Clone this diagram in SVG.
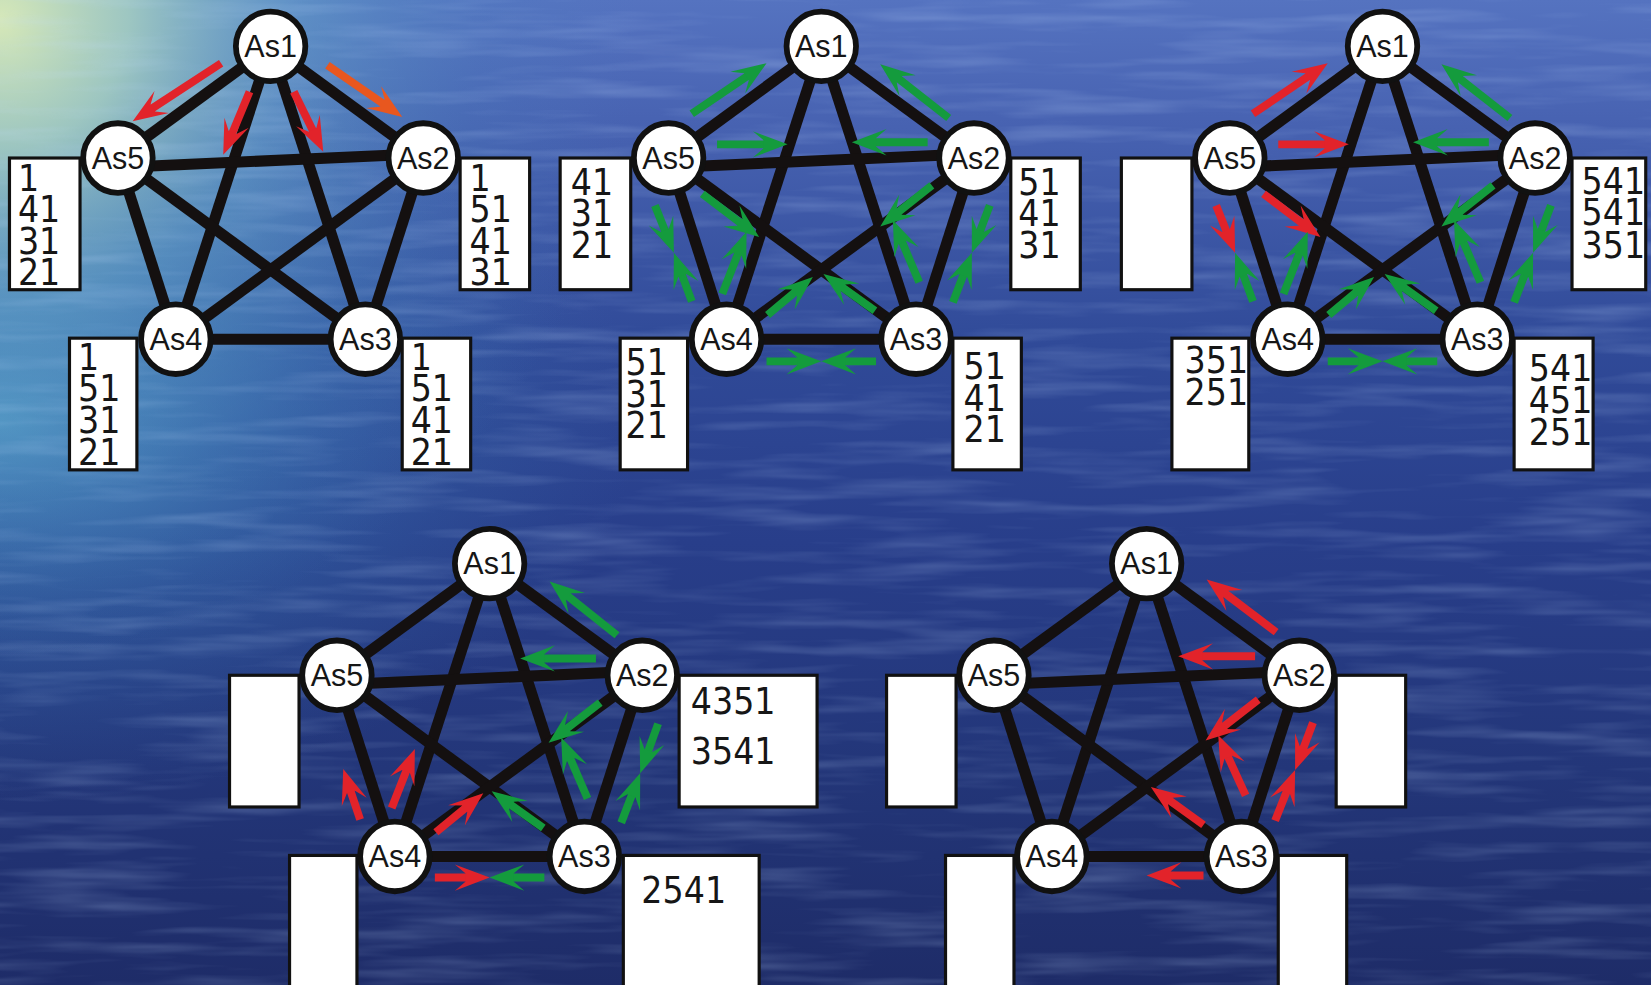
<svg xmlns="http://www.w3.org/2000/svg" width="1651" height="985" viewBox="0 0 1651 985">
  <defs>
    <linearGradient id="sea" x1="0" y1="0" x2="0" y2="1">
      <stop offset="0" stop-color="#5573c0"/>
      <stop offset="0.12" stop-color="#4863b2"/>
      <stop offset="0.35" stop-color="#304a98"/>
      <stop offset="0.55" stop-color="#283e8a"/>
      <stop offset="0.78" stop-color="#233679"/>
      <stop offset="1" stop-color="#1e2c68"/>
    </linearGradient>
    <radialGradient id="glow" cx="0" cy="20" r="640" gradientUnits="userSpaceOnUse">
      <stop offset="0" stop-color="#d6e8b8" stop-opacity="1"/>
      <stop offset="0.2" stop-color="#a6d0c2" stop-opacity="0.9"/>
      <stop offset="0.45" stop-color="#68aacb" stop-opacity="0.55"/>
      <stop offset="0.75" stop-color="#4c88c0" stop-opacity="0.2"/>
      <stop offset="1" stop-color="#4a80c0" stop-opacity="0"/>
    </radialGradient>
    <radialGradient id="teal" cx="0" cy="420" r="640" gradientTransform="translate(0 420) scale(1 0.6) translate(0 -420)" gradientUnits="userSpaceOnUse">
      <stop offset="0" stop-color="#5cb0d2" stop-opacity="0.75"/>
      <stop offset="0.5" stop-color="#4088bf" stop-opacity="0.32"/>
      <stop offset="1" stop-color="#3a70b0" stop-opacity="0"/>
    </radialGradient>
    <filter id="ripple" x="0" y="0" width="100%" height="100%">
      <feTurbulence type="fractalNoise" baseFrequency="0.006 0.07" numOctaves="3" seed="7"/>
      <feColorMatrix type="matrix" values="0 0 0 0 0.55  0 0 0 0 0.72  0 0 0 0 1  0 0 0 1.6 -0.72"/>
    </filter>
    <!-- barbed arrowheads, tip at the line end -->
    <marker id="hr" markerUnits="userSpaceOnUse" refX="0" refY="0" markerWidth="36" markerHeight="26" orient="auto" style="overflow:visible">
      <path d="M0,0 L-33,-12.5 L-23,-4 L-23,4 L-33,12.5 Z" fill="#e2232a"/>
    </marker>
    <marker id="hg" markerUnits="userSpaceOnUse" refX="0" refY="0" markerWidth="36" markerHeight="26" orient="auto" style="overflow:visible">
      <path d="M0,0 L-33,-12.5 L-23,-4 L-23,4 L-33,12.5 Z" fill="#149b3d"/>
    </marker>
    <marker id="ho" markerUnits="userSpaceOnUse" refX="0" refY="0" markerWidth="36" markerHeight="26" orient="auto" style="overflow:visible">
      <path d="M0,0 L-33,-12.5 L-23,-4 L-23,4 L-33,12.5 Z" fill="#e8571f"/>
    </marker>
  </defs>
  <style>
    .edge line { stroke: #141010; stroke-width: 10.5; stroke-linecap: butt; }
    .box { fill: #ffffff; stroke: #111111; stroke-width: 3; }
    .num { font-family: "DejaVu Sans", "Liberation Sans", sans-serif; font-size: 36px; fill: #161616; }
    .node circle { fill: #ffffff; stroke: #111111; stroke-width: 5.5; }
    .node text { font-family: "Liberation Sans", Arial, sans-serif; font-size: 29px; fill: #161616; text-anchor: middle; }
    .arrows line { stroke-width: 7.5; fill: none; stroke-dasharray: 78 100; }
    .red { stroke: #e2232a; marker-end: url(#hr); }
    .grn { stroke: #149b3d; marker-end: url(#hg); }
    .org { stroke: #e8571f; marker-end: url(#ho); }
  </style>

  <!-- sea background -->
  <rect width="1651" height="985" fill="url(#sea)"/>
  <rect width="1651" height="985" fill="url(#teal)"/>
  <rect width="1651" height="985" fill="url(#glow)"/>
  <rect width="1651" height="985" filter="url(#ripple)" opacity="0.28"/>

  <g transform="scale(1.05293 1.05348)">

    <!-- ===== panel 1 ===== -->
    <g id="d1" transform="translate(257 44)">
      <g id="d1-tables">
        <rect class="box" x="-248" y="106" width="67" height="125"/>
        <g transform="translate(-240 0) scale(0.88 1)"><text class="num"><tspan x="0" y="137">1</tspan><tspan x="0" y="167">41</tspan><tspan x="0" y="197">31</tspan><tspan x="0" y="227">21</tspan></text></g>
        <rect class="box" x="180" y="106" width="66" height="125"/>
        <g transform="translate(189 0) scale(0.88 1)"><text class="num"><tspan x="0" y="137">1</tspan><tspan x="0" y="167">51</tspan><tspan x="0" y="197">41</tspan><tspan x="0" y="227">31</tspan></text></g>
        <rect class="box" x="-191" y="277" width="64" height="125"/>
        <g transform="translate(-183 0) scale(0.88 1)"><text class="num"><tspan x="0" y="307">1</tspan><tspan x="0" y="337">51</tspan><tspan x="0" y="367">31</tspan><tspan x="0" y="397">21</tspan></text></g>
        <rect class="box" x="125" y="277" width="65" height="125"/>
        <g transform="translate(133 0) scale(0.88 1)"><text class="num"><tspan x="0" y="307">1</tspan><tspan x="0" y="337">51</tspan><tspan x="0" y="367">41</tspan><tspan x="0" y="397">21</tspan></text></g>
      </g>
      <g id="d1-connectors" class="edge">
        <line x1="0" y1="0" x2="-145" y2="106"/>
        <line x1="0" y1="0" x2="145" y2="106"/>
        <line x1="0" y1="0" x2="-90" y2="278"/>
        <line x1="0" y1="0" x2="90" y2="278"/>
        <line x1="-145" y1="115" x2="145" y2="102"/>
        <line x1="-145" y1="106" x2="90" y2="278"/>
        <line x1="-145" y1="106" x2="-90" y2="278"/>
        <line x1="145" y1="106" x2="-90" y2="278"/>
        <line x1="145" y1="106" x2="90" y2="278"/>
        <line x1="-90" y1="278" x2="90" y2="278"/>
      </g>
      <g id="d1-as1" class="node"><circle cx="0" cy="0" r="33"/><text x="0" y="10">As1</text></g>
      <g id="d1-as2" class="node"><circle cx="145" cy="106" r="33"/><text x="145" y="116">As2</text></g>
      <g id="d1-as3" class="node"><circle cx="90" cy="278" r="33"/><text x="90" y="288">As3</text></g>
      <g id="d1-as4" class="node"><circle cx="-90" cy="278" r="33"/><text x="-90" y="288">As4</text></g>
      <g id="d1-as5" class="node"><circle cx="-145" cy="106" r="33"/><text x="-145" y="116">As5</text></g>
      <g id="d1-arrows" class="arrows">
        <line class="red" pathLength="100" x1="-47" y1="16" x2="-131" y2="71"/>
        <line class="red" pathLength="100" x1="-20" y1="43" x2="-45" y2="103"/>
        <line class="red" pathLength="100" x1="22" y1="43" x2="50" y2="100"/>
        <line class="org" pathLength="100" x1="54" y1="18" x2="125" y2="67"/>
      </g>
    </g>

    <!-- ===== panel 2 ===== -->
    <g id="d2" transform="translate(780 44)">
      <g id="d2-tables">
        <rect class="box" x="-248" y="106" width="67" height="125"/>
        <g transform="translate(-238 0) scale(0.88 1)"><text class="num"><tspan x="0" y="141">41</tspan><tspan x="0" y="171">31</tspan><tspan x="0" y="201">21</tspan></text></g>
        <rect class="box" x="180" y="106" width="66" height="125"/>
        <g transform="translate(187 0) scale(0.88 1)"><text class="num"><tspan x="0" y="141">51</tspan><tspan x="0" y="171">41</tspan><tspan x="0" y="201">31</tspan></text></g>
        <rect class="box" x="-191" y="277" width="64" height="125"/>
        <g transform="translate(-186 0) scale(0.88 1)"><text class="num"><tspan x="0" y="312">51</tspan><tspan x="0" y="342">31</tspan><tspan x="0" y="372">21</tspan></text></g>
        <rect class="box" x="125" y="277" width="65" height="125"/>
        <g transform="translate(135 0) scale(0.88 1)"><text class="num"><tspan x="0" y="316">51</tspan><tspan x="0" y="346">41</tspan><tspan x="0" y="376">21</tspan></text></g>
      </g>
      <g id="d2-connectors" class="edge">
        <line x1="0" y1="0" x2="-145" y2="106"/>
        <line x1="0" y1="0" x2="145" y2="106"/>
        <line x1="0" y1="0" x2="-90" y2="278"/>
        <line x1="0" y1="0" x2="90" y2="278"/>
        <line x1="-145" y1="115" x2="145" y2="102"/>
        <line x1="-145" y1="106" x2="90" y2="278"/>
        <line x1="-145" y1="106" x2="-90" y2="278"/>
        <line x1="145" y1="106" x2="-90" y2="278"/>
        <line x1="145" y1="106" x2="90" y2="278"/>
        <line x1="-90" y1="278" x2="90" y2="278"/>
      </g>
      <g id="d2-as1" class="node"><circle cx="0" cy="0" r="33"/><text x="0" y="10">As1</text></g>
      <g id="d2-as2" class="node"><circle cx="145" cy="106" r="33"/><text x="145" y="116">As2</text></g>
      <g id="d2-as3" class="node"><circle cx="90" cy="278" r="33"/><text x="90" y="288">As3</text></g>
      <g id="d2-as4" class="node"><circle cx="-90" cy="278" r="33"/><text x="-90" y="288">As4</text></g>
      <g id="d2-as5" class="node"><circle cx="-145" cy="106" r="33"/><text x="-145" y="116">As5</text></g>
      <g id="d2-arrows" class="arrows">
        <line class="grn" pathLength="100" x1="-123" y1="64" x2="-52" y2="16"/>
        <line class="grn" pathLength="100" x1="121" y1="68" x2="56" y2="17"/>
        <line class="grn" pathLength="100" x1="-99" y1="93" x2="-32" y2="93"/>
        <line class="grn" pathLength="100" x1="101" y1="91" x2="29" y2="91"/>
        <line class="grn" pathLength="100" x1="-113" y1="140" x2="-59" y2="181"/>
        <line class="grn" pathLength="100" x1="-51" y1="255" x2="-8" y2="219"/>
        <line class="grn" pathLength="100" x1="51" y1="251" x2="2" y2="216"/>
        <line class="grn" pathLength="100" x1="-94" y1="235" x2="-71" y2="176"/>
        <line class="grn" pathLength="100" x1="93" y1="224" x2="68" y2="165"/>
        <line class="grn" pathLength="100" x1="105" y1="132" x2="56" y2="171"/>
        <line class="grn" pathLength="100" x1="-158" y1="151" x2="-140" y2="196"/>
        <line class="grn" pathLength="100" x1="-123" y1="242" x2="-140" y2="196"/>
        <line class="grn" pathLength="100" x1="160" y1="151" x2="143" y2="196"/>
        <line class="grn" pathLength="100" x1="125" y1="243" x2="143" y2="196"/>
        <line class="grn" pathLength="100" x1="-52" y1="299" x2="0" y2="299"/>
        <line class="grn" pathLength="100" x1="52" y1="299" x2="0" y2="299"/>
      </g>
    </g>

    <!-- ===== panel 3 ===== -->
    <g id="d3" transform="translate(1313 44)">
      <g id="d3-tables">
        <rect class="box" x="-248" y="106" width="67" height="125"/>
        <rect class="box" x="180" y="106" width="70" height="125"/>
        <g transform="translate(189 0) scale(0.88 1)"><text class="num"><tspan x="0" y="140">541</tspan><tspan x="0" y="170">541</tspan><tspan x="0" y="201">351</tspan></text></g>
        <rect class="box" x="-200" y="277" width="73" height="125"/>
        <g transform="translate(-188 0) scale(0.88 1)"><text class="num"><tspan x="0" y="310">351</tspan><tspan x="0" y="340">251</tspan></text></g>
        <rect class="box" x="125" y="277" width="75" height="125"/>
        <g transform="translate(139 0) scale(0.88 1)"><text class="num"><tspan x="0" y="318">541</tspan><tspan x="0" y="348">451</tspan><tspan x="0" y="378">251</tspan></text></g>
      </g>
      <g id="d3-connectors" class="edge">
        <line x1="0" y1="0" x2="-145" y2="106"/>
        <line x1="0" y1="0" x2="145" y2="106"/>
        <line x1="0" y1="0" x2="-90" y2="278"/>
        <line x1="0" y1="0" x2="90" y2="278"/>
        <line x1="-145" y1="115" x2="145" y2="102"/>
        <line x1="-145" y1="106" x2="90" y2="278"/>
        <line x1="-145" y1="106" x2="-90" y2="278"/>
        <line x1="145" y1="106" x2="-90" y2="278"/>
        <line x1="145" y1="106" x2="90" y2="278"/>
        <line x1="-90" y1="278" x2="90" y2="278"/>
      </g>
      <g id="d3-as1" class="node"><circle cx="0" cy="0" r="33"/><text x="0" y="10">As1</text></g>
      <g id="d3-as2" class="node"><circle cx="145" cy="106" r="33"/><text x="145" y="116">As2</text></g>
      <g id="d3-as3" class="node"><circle cx="90" cy="278" r="33"/><text x="90" y="288">As3</text></g>
      <g id="d3-as4" class="node"><circle cx="-90" cy="278" r="33"/><text x="-90" y="288">As4</text></g>
      <g id="d3-as5" class="node"><circle cx="-145" cy="106" r="33"/><text x="-145" y="116">As5</text></g>
      <g id="d3-arrows" class="arrows">
        <line class="red" pathLength="100" x1="-123" y1="64" x2="-52" y2="16"/>
        <line class="grn" pathLength="100" x1="121" y1="68" x2="56" y2="17"/>
        <line class="red" pathLength="100" x1="-99" y1="93" x2="-32" y2="93"/>
        <line class="grn" pathLength="100" x1="101" y1="91" x2="29" y2="91"/>
        <line class="red" pathLength="100" x1="-113" y1="140" x2="-59" y2="181"/>
        <line class="grn" pathLength="100" x1="-51" y1="255" x2="-8" y2="219"/>
        <line class="grn" pathLength="100" x1="51" y1="251" x2="2" y2="216"/>
        <line class="grn" pathLength="100" x1="-94" y1="235" x2="-71" y2="176"/>
        <line class="grn" pathLength="100" x1="93" y1="224" x2="68" y2="165"/>
        <line class="grn" pathLength="100" x1="105" y1="132" x2="56" y2="171"/>
        <line class="red" pathLength="100" x1="-158" y1="151" x2="-140" y2="196"/>
        <line class="grn" pathLength="100" x1="-123" y1="242" x2="-140" y2="196"/>
        <line class="grn" pathLength="100" x1="160" y1="151" x2="143" y2="196"/>
        <line class="grn" pathLength="100" x1="125" y1="243" x2="143" y2="196"/>
        <line class="grn" pathLength="100" x1="-52" y1="299" x2="0" y2="299"/>
        <line class="grn" pathLength="100" x1="52" y1="299" x2="0" y2="299"/>
      </g>
    </g>

    <!-- ===== panel 4 ===== -->
    <g id="d4" transform="translate(465 535)">
      <g id="d4-tables">
        <rect class="box" x="-247" y="106" width="66" height="125"/>
        <rect class="box" x="180" y="106" width="131" height="125"/>
        <g transform="translate(191 0) scale(0.88 1)"><text class="num"><tspan x="0" y="143">4351</tspan><tspan x="0" y="190">3541</tspan></text></g>
        <rect class="box" x="-190" y="277" width="64" height="125"/>
        <rect class="box" x="127" y="277" width="129" height="125"/>
        <g transform="translate(144 0) scale(0.88 1)"><text class="num"><tspan x="0" y="322">2541</tspan></text></g>
      </g>
      <g id="d4-connectors" class="edge">
        <line x1="0" y1="0" x2="-145" y2="106"/>
        <line x1="0" y1="0" x2="145" y2="106"/>
        <line x1="0" y1="0" x2="-90" y2="278"/>
        <line x1="0" y1="0" x2="90" y2="278"/>
        <line x1="-145" y1="115" x2="145" y2="102"/>
        <line x1="-145" y1="106" x2="90" y2="278"/>
        <line x1="-145" y1="106" x2="-90" y2="278"/>
        <line x1="145" y1="106" x2="-90" y2="278"/>
        <line x1="145" y1="106" x2="90" y2="278"/>
        <line x1="-90" y1="278" x2="90" y2="278"/>
      </g>
      <g id="d4-as1" class="node"><circle cx="0" cy="0" r="33"/><text x="0" y="10">As1</text></g>
      <g id="d4-as2" class="node"><circle cx="145" cy="106" r="33"/><text x="145" y="116">As2</text></g>
      <g id="d4-as3" class="node"><circle cx="90" cy="278" r="33"/><text x="90" y="288">As3</text></g>
      <g id="d4-as4" class="node"><circle cx="-90" cy="278" r="33"/><text x="-90" y="288">As4</text></g>
      <g id="d4-as5" class="node"><circle cx="-145" cy="106" r="33"/><text x="-145" y="116">As5</text></g>
      <g id="d4-arrows" class="arrows">
        <line class="grn" pathLength="100" x1="121" y1="68" x2="57" y2="17"/>
        <line class="grn" pathLength="100" x1="101" y1="90" x2="29" y2="90"/>
        <line class="grn" pathLength="100" x1="105" y1="132" x2="56" y2="170"/>
        <line class="grn" pathLength="100" x1="93" y1="223" x2="68" y2="165"/>
        <line class="grn" pathLength="100" x1="160" y1="152" x2="143" y2="199"/>
        <line class="grn" pathLength="100" x1="125" y1="246" x2="143" y2="199"/>
        <line class="grn" pathLength="100" x1="51" y1="251" x2="2" y2="216"/>
        <line class="grn" pathLength="100" x1="52" y1="298" x2="0" y2="298"/>
        <line class="red" pathLength="100" x1="-51" y1="255" x2="-6" y2="218"/>
        <line class="red" pathLength="100" x1="-93" y1="232" x2="-71" y2="176"/>
        <line class="red" pathLength="100" x1="-123" y1="243" x2="-139" y2="195"/>
        <line class="red" pathLength="100" x1="-52" y1="298" x2="0" y2="298"/>
      </g>
    </g>

    <!-- ===== panel 5 ===== -->
    <g id="d5" transform="translate(1089 535)">
      <g id="d5-tables">
        <rect class="box" x="-247" y="106" width="66" height="125"/>
        <rect class="box" x="180" y="106" width="66" height="125"/>
        <rect class="box" x="-191" y="277" width="65" height="125"/>
        <rect class="box" x="125" y="277" width="65" height="125"/>
      </g>
      <g id="d5-connectors" class="edge">
        <line x1="0" y1="0" x2="-145" y2="106"/>
        <line x1="0" y1="0" x2="145" y2="106"/>
        <line x1="0" y1="0" x2="-90" y2="278"/>
        <line x1="0" y1="0" x2="90" y2="278"/>
        <line x1="-145" y1="115" x2="145" y2="102"/>
        <line x1="-145" y1="106" x2="90" y2="278"/>
        <line x1="-145" y1="106" x2="-90" y2="278"/>
        <line x1="145" y1="106" x2="-90" y2="278"/>
        <line x1="145" y1="106" x2="90" y2="278"/>
        <line x1="-90" y1="278" x2="90" y2="278"/>
      </g>
      <g id="d5-as1" class="node"><circle cx="0" cy="0" r="33"/><text x="0" y="10">As1</text></g>
      <g id="d5-as2" class="node"><circle cx="145" cy="106" r="33"/><text x="145" y="116">As2</text></g>
      <g id="d5-as3" class="node"><circle cx="90" cy="278" r="33"/><text x="90" y="288">As3</text></g>
      <g id="d5-as4" class="node"><circle cx="-90" cy="278" r="33"/><text x="-90" y="288">As4</text></g>
      <g id="d5-as5" class="node"><circle cx="-145" cy="106" r="33"/><text x="-145" y="116">As5</text></g>
      <g id="d5-arrows" class="arrows">
        <line class="red" pathLength="100" x1="123" y1="65" x2="57" y2="15"/>
        <line class="red" pathLength="100" x1="103" y1="88" x2="30" y2="88"/>
        <line class="red" pathLength="100" x1="106" y1="129" x2="56" y2="168"/>
        <line class="red" pathLength="100" x1="94" y1="220" x2="68" y2="163"/>
        <line class="red" pathLength="100" x1="158" y1="151" x2="141" y2="196"/>
        <line class="red" pathLength="100" x1="122" y1="244" x2="141" y2="196"/>
        <line class="red" pathLength="100" x1="54" y1="248" x2="4" y2="212"/>
        <line class="red" pathLength="100" x1="54" y1="296" x2="0" y2="296"/>
      </g>
    </g>

  </g>
</svg>
